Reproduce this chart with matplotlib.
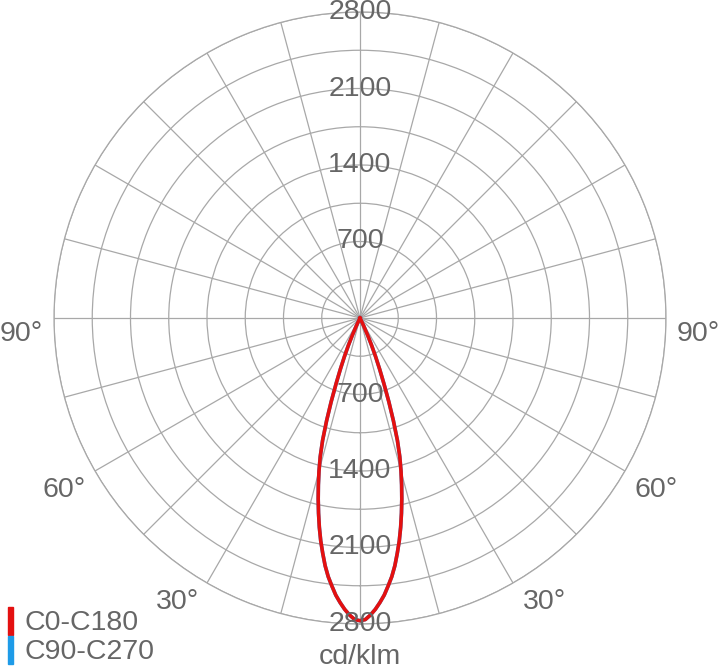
import numpy as np
import matplotlib
matplotlib.use('Agg')
import matplotlib.pyplot as plt
from matplotlib.patches import Rectangle

# photometric data (cd/klm), symmetric beam, read every 1 degree
gamma = list(range(0, 28)) + [30, 45, 60, 75, 90]
c0_c180 = [2770, 2760, 2720, 2670, 2610, 2545, 2465, 2385, 2290, 2180,
           2070, 1950, 1825, 1700, 1575, 1450, 1320, 1170, 990, 810,
           640, 500, 380, 270, 170, 80, 20, 0, 0, 0, 0, 0, 0]
c90_c270 = [2770, 2760, 2720, 2670, 2610, 2545, 2465, 2385, 2290, 2180,
            2070, 1950, 1825, 1700, 1575, 1450, 1320, 1170, 990, 810,
            640, 500, 380, 270, 170, 80, 20, 0, 0, 0, 0, 0, 0]

ring_values = [350, 700, 1050, 1400, 1750, 2100, 2450, 2800]
ring_labels = [700, 1400, 2100, 2800]
angle_labels = ['90°', '60°', '30°']
legend_names = ['C0-C180', 'C90-C270']
unit = 'cd/klm'

W, H = 720, 670
TXT = '#666666'
GRID = '#a8a8a8'
plt.rcParams['font.family'] = ['Liberation Sans', 'DejaVu Sans']

fig = plt.figure(figsize=(W / 100, H / 100), dpi=100)
cx, cy, R = 360, 318, 306
ax = fig.add_axes([(cx - R) / W, (H - cy - R) / H, 2 * R / W, 2 * R / H], projection='polar')
ax.set_theta_zero_location('S')
ax.set_ylim(0, 2800)
ax.set_rgrids(ring_values, labels=[''] * len(ring_values))
ax.set_thetagrids(np.arange(0, 360, 15), labels=[''] * 24)
ax.grid(True, color=GRID, linewidth=0.9)
ax.spines['polar'].set_color(GRID)
ax.spines['polar'].set_linewidth(0.9)
ax.tick_params(length=0, pad=0)

def full_curve(vals):
    g = np.array(gamma, dtype=float)
    v = np.array(vals, dtype=float)
    th = np.concatenate([-g[::-1], g[1:]])
    r = np.concatenate([v[::-1], v[1:]])
    return np.radians(th), r

th, r = full_curve(c90_c270)
ax.plot(th, r, color='#1e9be8', linewidth=2.6, zorder=3)
th, r = full_curve(c0_c180)
ax.plot(th, r, color='#e41010', linewidth=2.6, zorder=4)

for v in ring_labels:
    ax.text(np.pi, v, str(v), ha='center', va='center', color=TXT, fontsize=20.5, zorder=5)
    ax.text(0, v, str(v), ha='center', va='center', color=TXT, fontsize=20.5, zorder=5)

def ftext(x, y, s, **kw):
    fig.text(x / W, 1 - y / H, s, color=TXT, fontsize=20.5, **kw)

# angle labels
pos = {'90°': [(21, 334), (698, 334)], '60°': [(64, 490), (656, 490)], '30°': [(178, 602), (545, 602)]}
for lab in angle_labels:
    for x, y in pos[lab]:
        ftext(x, y, lab, ha='center', va='center')

ftext(360, 657, unit, ha='center', va='center')

# legend
colors = ['#e41010', '#1e9be8']
for i, name in enumerate(legend_names):
    y0 = 607 + i * 29
    fig.patches.append(Rectangle((8 / W, 1 - (y0 + 28) / H), 5 / W, 28 / H,
                                 transform=fig.transFigure, color=colors[i]))
    ftext(24, y0 + 16, name, ha='left', va='center')

plt.savefig('out.png', dpi=100)
plt.close()
